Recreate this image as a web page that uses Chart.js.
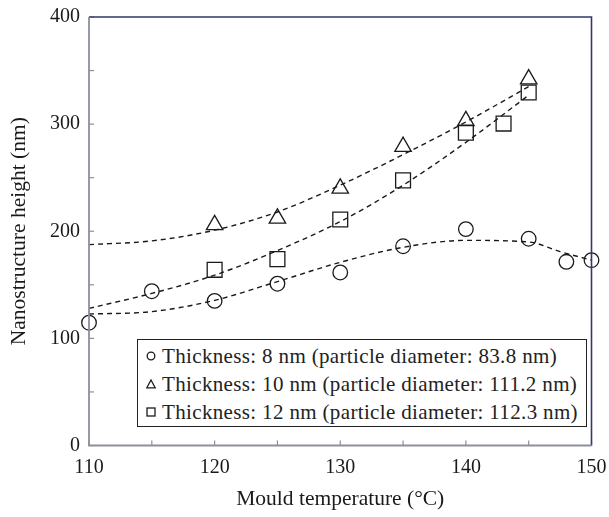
<!DOCTYPE html>
<html>
<head>
<meta charset="utf-8">
<script src="https://cdn.jsdelivr.net/npm/chart.js@4.4.1/dist/chart.umd.min.js"></script>
<style>
  html, body { margin: 0; padding: 0; background: #fff; }
  #wrap { position: relative; width: 609px; height: 517px; }
  #legend {
    position: absolute; left: 137px; top: 339px; width: 450px; height: 88px;
    border: 1.3px solid #222; box-sizing: border-box; background: #fff;
    font-family: "Liberation Serif", "DejaVu Serif", "Times New Roman", serif; font-size: 21px; color: #222;
    letter-spacing: 0.35px; padding-top: 2px;
  }
  #legend .row { height: 28px; line-height: 28px; white-space: nowrap; padding-left: 8px; }
  #legend svg { vertical-align: middle; margin-right: 6px; position: relative; top: -2px; }
</style>
</head>
<body>
<div id="wrap">
<canvas id="c" width="609" height="517"></canvas>
<div id="legend"></div>
</div>
<script>
// ---- data ----
const xTicks = [110, 120, 130, 140, 150];
const yTicks = [0, 100, 200, 300, 400];

const t8X  = [110, 115, 120, 125, 130, 135, 140, 145, 148, 150];
const t8Y  = [114.6, 144, 135, 151, 161.5, 186, 202, 193, 171.5, 173];

const t10X = [120, 125, 130, 135, 140, 145];
const t10Y = [206, 212, 240, 279, 303, 342];

const t12X = [120, 125, 130, 135, 140, 143, 145];
const t12Y = [164, 174, 211, 247.5, 292, 300.5, 329.5];

const fit8X  = [110, 115, 120, 125, 130, 135, 140, 145, 147.5, 150];
const fit8Y  = [122.7, 125, 135.5, 153, 171, 185, 191.5, 190, 181, 173];
const fit10X = [110, 115, 120, 125, 130, 135, 140, 145];
const fit10Y = [187.5, 191, 201, 218, 243, 271.5, 302, 335];
const fit12X = [110, 115, 120, 125, 130, 135, 140, 145];
const fit12Y = [128, 142, 159, 182, 209, 243, 283, 327];

const legendLabels = [
  "Thickness: 8 nm (particle diameter: 83.8 nm)",
  "Thickness: 10 nm (particle diameter: 111.2 nm)",
  "Thickness: 12 nm (particle diameter: 112.3 nm)"
];
const xTitle = "Mould temperature (\u00B0C)";
const yTitle = "Nanostructure height (nm)";

// ---- helpers ----
const pts = (xs, ys) => xs.map((x, i) => ({ x: x, y: ys[i] }));
const INK = "#1a1a1a";
const AXIS = "#8d9099";
const FRAME = "#2f3a72";
const FONT = '"Liberation Serif", "DejaVu Serif", "Times New Roman", serif';

function markerDS(label, xs, ys, style, r) {
  return {
    label: label, data: pts(xs, ys), showLine: false,
    pointStyle: style, pointRadius: r, pointHoverRadius: r,
    borderColor: INK, backgroundColor: "rgba(0,0,0,0)", pointBorderWidth: 1.3
  };
}
function fitDS(xs, ys) {
  return {
    label: "_fit", data: pts(xs, ys), showLine: true, pointRadius: 0,
    borderColor: INK, borderWidth: 1.4, borderDash: [5, 4], fill: false,
    cubicInterpolationMode: "monotone"
  };
}

const framePlugin = {
  id: "frame",
  afterDatasetsDraw(chart) {
    const { ctx, chartArea: a, scales } = chart;
    const xs = scales.x, ys = scales.y;
    ctx.save();
    ctx.strokeStyle = AXIS; ctx.lineWidth = 1.2;
    for (let v = 0; v <= 400; v += 50) {
      const p = ys.getPixelForValue(v);
      ctx.beginPath(); ctx.moveTo(a.left, p); ctx.lineTo(a.left + 5, p); ctx.stroke();
    }
    for (let v = 110; v <= 150; v += 5) {
      const p = xs.getPixelForValue(v);
      ctx.beginPath(); ctx.moveTo(p, a.bottom); ctx.lineTo(p, a.bottom - 5); ctx.stroke();
    }
    ctx.strokeStyle = FRAME; ctx.lineWidth = 1.6;
    ctx.beginPath(); ctx.moveTo(a.left, a.top); ctx.lineTo(a.right, a.top); ctx.lineTo(a.right, a.bottom); ctx.stroke();
    ctx.strokeStyle = AXIS; ctx.lineWidth = 1.8;
    ctx.beginPath(); ctx.moveTo(a.left, a.top); ctx.lineTo(a.left, a.bottom); ctx.lineTo(a.right, a.bottom); ctx.stroke();
    ctx.restore();
  }
};

const chart = new Chart(document.getElementById("c"), {
  type: "scatter",
  data: {
    datasets: [
      fitDS(fit8X, fit8Y), fitDS(fit10X, fit10Y), fitDS(fit12X, fit12Y),
      markerDS(legendLabels[0], t8X, t8Y, "circle", 7.3),
      markerDS(legendLabels[1], t10X, t10Y, "triangle", 9.5),
      markerDS(legendLabels[2], t12X, t12Y, "rect", 10.5)
    ]
  },
  options: {
    responsive: false, animation: false, clip: false,
    layout: { padding: { left: 0, top: 17, right: 17.5, bottom: 0 } },
    plugins: { legend: { display: false }, tooltip: { enabled: false } },
    scales: {
      x: {
        type: "linear", min: 110, max: 150,
        afterBuildTicks: s => { s.ticks = xTicks.map(v => ({ value: v })); },
        afterFit: s => { s.height = 71.5; s.paddingLeft = 0; s.paddingRight = 0; },
        grid: { display: false, drawTicks: false },
        border: { display: false },
        ticks: { padding: 10, color: INK, font: { family: FONT, size: 20 } },
        title: { display: true, text: xTitle, color: INK, padding: { top: 8, bottom: 5 }, font: { family: FONT, size: 21.5 } }
      },
      y: {
        type: "linear", min: 0, max: 400,
        afterBuildTicks: s => { s.ticks = yTicks.map(v => ({ value: v })); },
        afterFit: s => { s.width = 89; s.paddingTop = 0; s.paddingBottom = 0; },
        grid: { display: false, drawTicks: false },
        border: { display: false },
        ticks: { padding: 9, color: INK, font: { family: FONT, size: 20 } },
        title: { display: true, text: yTitle, color: INK, padding: { top: 6, bottom: 0 }, font: { family: FONT, size: 21.5 } }
      }
    }
  },
  plugins: [framePlugin]
});

const icons = [
  '<svg width="10" height="10"><circle cx="5" cy="5" r="3.8" fill="none" stroke="#1a1a1a" stroke-width="1.3"/></svg>',
  '<svg width="10" height="10"><polygon points="5,1 9.2,8.8 0.8,8.8" fill="none" stroke="#1a1a1a" stroke-width="1.3"/></svg>',
  '<svg width="10" height="10"><rect x="1" y="1" width="8" height="8" fill="none" stroke="#1a1a1a" stroke-width="1.3"/></svg>'
];
document.getElementById("legend").innerHTML = legendLabels.map((t, i) =>
  '<div class="row">' + icons[i] + '<span>' + t + '</span></div>').join("");
</script>
</body>
</html>
